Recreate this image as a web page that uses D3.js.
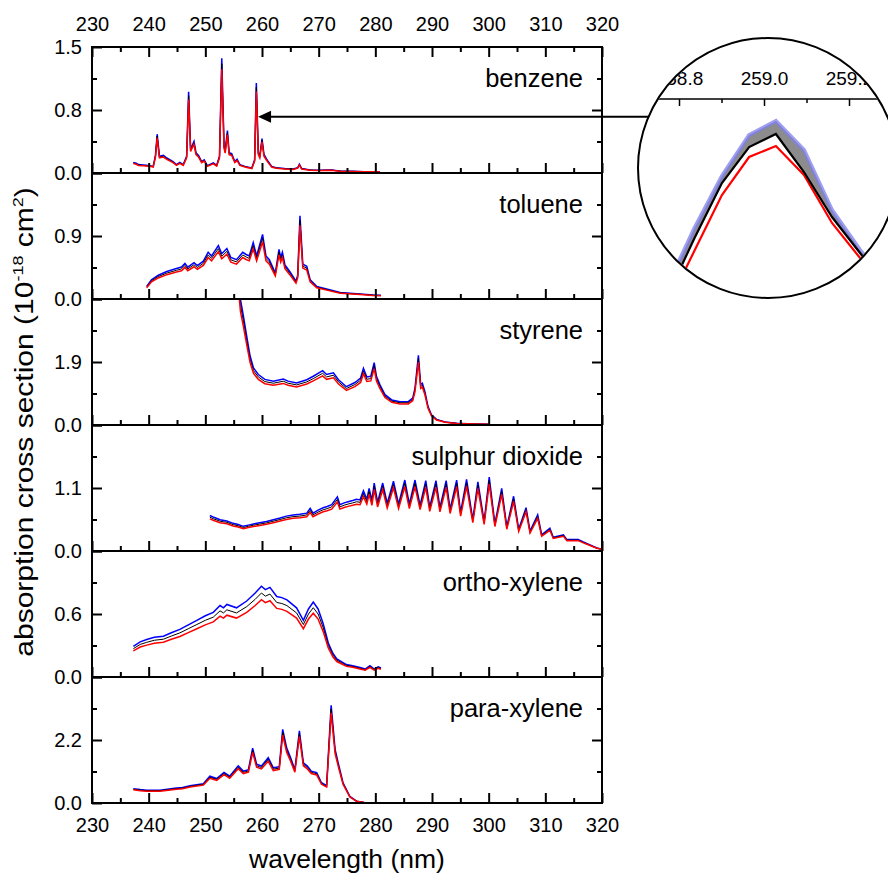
<!DOCTYPE html>
<html>
<head>
<meta charset="utf-8">
<script src="https://cdn.jsdelivr.net/npm/d3@7"></script>
<style>
	body { margin: 0; background: #fff; }
	svg text { font-family: "Liberation Sans", Arial, sans-serif; fill: #000; }
</style>
</head>
<body>
<div id="chart"></div>
<script>
// spectra: [wavelength nm, mean cross section 1e-18 cm2]
var benzene = [[237.3,0.12],[237.8,0.11],[238.2,0.095],[239.0,0.09],[239.6,0.087],[240.4,0.08],[240.8,0.075],[241.2,0.2],[241.5,0.44],[241.9,0.19],[242.6,0.2],[243.2,0.17],[244.3,0.13],[244.9,0.095],[245.5,0.12],[246.1,0.095],[246.7,0.19],[247.05,0.92],[247.4,0.27],[248.0,0.36],[248.35,0.23],[248.8,0.2],[249.35,0.13],[249.8,0.15],[250.35,0.083],[251.4,0.115],[252.0,0.087],[252.5,0.19],[252.9,1.3],[253.3,0.31],[253.5,0.25],[253.9,0.48],[254.2,0.23],[254.65,0.22],[255.2,0.13],[255.6,0.155],[256.1,0.095],[257.0,0.075],[258.2,0.056],[258.7,0.15],[259.0,1.02],[259.35,0.23],[259.6,0.19],[260.0,0.39],[260.35,0.21],[260.8,0.16],[261.1,0.13],[261.7,0.075],[262.5,0.06],[264.0,0.05],[265.5,0.045],[266.3,0.06],[266.6,0.1],[267.0,0.05],[268.5,0.035],[270.0,0.03],[272.3,0.035],[274.0,0.02],[276.0,0.02],[278.0,0.015],[280.8,0.015]];

var toluene = [[239.65,0.17],[240.5,0.26],[241.7,0.32],[243.2,0.37],[244.9,0.41],[245.8,0.43],[246.4,0.48],[246.9,0.43],[248.0,0.49],[248.6,0.45],[249.65,0.51],[250.5,0.63],[251.1,0.58],[252.3,0.72],[252.9,0.61],[253.8,0.68],[254.5,0.56],[255.5,0.53],[256.6,0.63],[257.2,0.6],[257.75,0.58],[258.45,0.76],[259.05,0.58],[260.1,0.87],[260.7,0.58],[261.3,0.53],[261.7,0.46],[262.35,0.35],[263.0,0.67],[263.3,0.56],[263.6,0.63],[264.05,0.46],[264.9,0.37],[266.0,0.24],[266.3,0.32],[266.7,1.12],[267.2,0.47],[267.9,0.44],[268.5,0.26],[269.65,0.17],[271.4,0.135],[273.8,0.087],[277.3,0.068],[279.6,0.055],[281.0,0.05]];

var styrene = [[255.9,4.2],[256.2,3.6],[256.7,3.15],[257.3,2.55],[257.9,1.98],[258.5,1.64],[259.35,1.45],[260.5,1.31],[262.0,1.26],[263.75,1.32],[264.6,1.26],[266.1,1.21],[267.9,1.3],[269.05,1.4],[270.7,1.56],[271.4,1.45],[272.6,1.5],[273.5,1.3],[274.9,1.1],[276.4,1.22],[277.4,1.35],[277.9,1.63],[278.5,1.38],[279.2,1.4],[279.8,1.79],[280.2,1.4],[280.8,1.16],[281.7,0.87],[282.9,0.72],[284.35,0.67],[285.8,0.67],[286.6,0.77],[287.0,1.06],[287.6,2.0],[288.0,1.16],[288.3,1.2],[288.75,0.96],[289.3,0.53],[289.9,0.29],[290.8,0.16],[292.3,0.086],[294.35,0.048],[297.3,0.03],[300.0,0.02]];

var sulphurDioxide = [[250.8,0.59],[251.5,0.56],[252.6,0.52],[253.8,0.5],[254.9,0.46],[255.8,0.44],[256.7,0.41],[257.6,0.43],[258.5,0.45],[259.6,0.47],[260.8,0.49],[262.0,0.52],[263.2,0.55],[264.3,0.58],[265.5,0.6],[266.7,0.61],[267.9,0.63],[268.5,0.71],[269.0,0.63],[269.9,0.68],[270.8,0.72],[271.5,0.74],[272.3,0.77],[273.3,0.9],[273.75,0.77],[274.5,0.8],[275.2,0.82],[276.0,0.84],[276.7,0.86],[277.3,0.85],[277.9,1.0],[278.5,0.86],[278.9,1.04],[279.4,0.84],[279.8,1.13],[280.4,0.81],[281.3,1.13],[282.1,0.79],[283.2,1.16],[284.1,0.78],[285.2,1.18],[286.0,0.78],[287.0,1.18],[287.9,0.76],[288.9,1.17],[289.6,0.73],[290.7,1.17],[291.4,0.72],[292.5,1.17],[293.2,0.69],[294.35,1.18],[295.05,0.64],[296.1,1.19],[297.2,0.52],[298.1,1.15],[299.2,0.49],[300.1,1.23],[301.1,0.45],[302.3,1.04],[303.2,0.4],[304.4,0.91],[305.3,0.36],[306.6,0.72],[307.3,0.33],[308.65,0.6],[309.35,0.27],[310.8,0.38],[311.4,0.23],[313.2,0.27],[313.8,0.19],[315.8,0.19],[316.7,0.15],[317.9,0.1],[319.1,0.05],[320.0,0.03]];

var orthoXylene = [[237.3,0.27],[238.5,0.31],[239.65,0.33],[241.0,0.35],[242.6,0.36],[244.0,0.39],[245.5,0.42],[247.0,0.46],[248.5,0.5],[250.0,0.54],[251.4,0.57],[252.6,0.63],[253.2,0.61],[253.8,0.64],[255.5,0.61],[257.3,0.67],[258.8,0.74],[259.9,0.8],[260.6,0.77],[261.4,0.79],[262.6,0.71],[263.5,0.7],[264.4,0.68],[266.1,0.61],[267.3,0.5],[268.2,0.6],[269.05,0.66],[269.9,0.6],[270.8,0.47],[271.7,0.3],[272.5,0.21],[273.2,0.16],[274.9,0.11],[276.0,0.1],[277.3,0.083],[278.2,0.07],[279.05,0.1],[279.8,0.07],[280.5,0.09],[281.0,0.08]];

var paraXylene = [[237.3,0.48],[238.5,0.45],[239.65,0.43],[242.0,0.43],[244.9,0.5],[246.0,0.52],[247.3,0.58],[249.65,0.65],[250.8,0.9],[252.0,0.82],[253.3,1.03],[254.3,0.9],[255.8,1.25],[256.7,1.07],[257.6,1.12],[258.35,1.84],[259.05,1.3],[259.9,1.24],[261.1,1.52],[262.0,1.18],[263.05,1.22],[263.65,2.47],[264.35,1.85],[265.05,1.52],[265.8,1.12],[266.6,2.42],[267.3,1.35],[268.0,1.24],[268.7,1.07],[269.65,1.02],[270.5,0.68],[271.4,0.58],[272.2,3.28],[272.9,1.8],[273.5,1.3],[274.3,0.68],[275.5,0.22],[276.7,0.06],[278.0,0.02],[280.8,0.01]];

var spectra = [benzene, toluene, styrene, sulphurDioxide, orthoXylene, paraXylene];
var names = ["benzene", "toluene", "styrene", "sulphur dioxide", "ortho-xylene", "para-xylene"];
var yMax = [1.5, 1.8, 3.8, 2.2, 1.2, 4.4];
// relative uncertainty of each spectrum (blue = upper, red = lower)
var relErr = [0.05, 0.06, 0.05, 0.05, 0.08, 0.04];

var xTicks = [230, 240, 250, 260, 270, 280, 290, 300, 310, 320];
var xMinor = [235, 245, 255, 265, 275, 285, 295, 305, 315];

// zoomed inset around the 259 nm benzene band
var insetWl = [258.77, 258.836, 258.901, 258.965, 259.028, 259.094, 259.16, 259.226, 259.29];
var insetUpper = [0.40, 0.64, 0.85, 1.014, 1.07, 0.954, 0.714, 0.554, 0.42];
var insetMean = [0.36, 0.60, 0.822, 0.966, 1.018, 0.866, 0.686, 0.542, 0.40];
var insetLower = [0.32, 0.55, 0.774, 0.926, 0.97, 0.854, 0.662, 0.522, 0.38];
var insetTicks = [258.8, 259.0, 259.2];
var insetMinor = [258.9, 259.1];

var width = 888, height = 877;
var plotLeft = 92, plotRight = 602, plotTop = 47, panelH = 126;
var fontTick = 20, fontName = 25.5, fontTitle = 26.5;
var fmt = d3.format(".1f");

var svg = d3.select("#chart").append("svg")
	.attr("width", width)
	.attr("height", height);

var x = d3.scaleLinear().domain([230, 320]).range([plotLeft, plotRight]);

function styleAxis(g, size) {
	g.select(".domain").remove();
	g.selectAll(".tick line").attr("stroke", "#000").attr("stroke-width", 2);
	g.attr("font-size", size).attr("font-family", null);
}

var benzeneY;

spectra.forEach(function(data, i) {
	var top = plotTop + i * panelH;
	var bottom = top + panelH;
	var y = d3.scaleLinear().domain([0, yMax[i]]).range([bottom, top]);
	if(i === 0) benzeneY = y;

	svg.append("clipPath").attr("id", "clip" + i)
		.append("rect")
		.attr("x", plotLeft).attr("y", top)
		.attr("width", plotRight - plotLeft).attr("height", panelH);

	var line = d3.line().x(d => x(d[0])).y(d => y(d[1]));
	var plot = svg.append("g").attr("clip-path", "url(#clip" + i + ")");
	var e = relErr[i];

	plot.append("path")
		.attr("d", line(data.map(d => [d[0], d[1] * (1 + e)])))
		.attr("fill", "none").attr("stroke", "#0000ff").attr("stroke-width", 1.5);
	plot.append("path")
		.attr("d", line(data))
		.attr("fill", "none").attr("stroke", "#000").attr("stroke-width", 1);
	plot.append("path")
		.attr("d", line(data.map(d => [d[0], d[1] * (1 - e)])))
		.attr("fill", "none").attr("stroke", "#ff0000").attr("stroke-width", 1.5);

	var m = yMax[i];
	svg.append("g")
		.attr("transform", `translate(${plotLeft},0)`)
		.call(d3.axisLeft(y).tickValues([0, m / 2, m]).tickSize(-10).tickPadding(10)
			.tickFormat(v => (i > 0 && v === m) ? "" : fmt(v)))
		.call(g => styleAxis(g, fontTick));
	svg.append("g")
		.attr("transform", `translate(${plotLeft},0)`)
		.call(d3.axisLeft(y).tickValues([m / 4, 3 * m / 4]).tickSize(-5).tickFormat(""))
		.call(g => styleAxis(g, fontTick));
	svg.append("g")
		.attr("transform", `translate(${plotRight},0)`)
		.call(d3.axisRight(y).tickValues([m / 2]).tickSize(-10).tickFormat(""))
		.call(g => styleAxis(g, fontTick));
	svg.append("g")
		.attr("transform", `translate(${plotRight},0)`)
		.call(d3.axisRight(y).tickValues([m / 4, 3 * m / 4]).tickSize(-5).tickFormat(""))
		.call(g => styleAxis(g, fontTick));

	var last = i === spectra.length - 1;
	svg.append("g")
		.attr("transform", `translate(0,${bottom})`)
		.call(d3.axisBottom(x).tickValues(xTicks).tickSize(-10).tickPadding(15)
			.tickFormat(last ? d3.format("d") : ""))
		.call(g => styleAxis(g, fontTick));
	svg.append("g")
		.attr("transform", `translate(0,${bottom})`)
		.call(d3.axisBottom(x).tickValues(xMinor).tickSize(-5).tickFormat(""))
		.call(g => styleAxis(g, fontTick));

	if(i === 0) {
		svg.append("g")
			.attr("transform", `translate(0,${top})`)
			.call(d3.axisTop(x).tickValues(xTicks).tickSize(-10).tickPadding(16).tickFormat(d3.format("d")))
			.call(g => styleAxis(g, fontTick));
		svg.append("g")
			.attr("transform", `translate(0,${top})`)
			.call(d3.axisTop(x).tickValues(xMinor).tickSize(-5).tickFormat(""))
			.call(g => styleAxis(g, fontTick));
	}

	svg.append("rect")
		.attr("x", plotLeft).attr("y", top)
		.attr("width", plotRight - plotLeft).attr("height", panelH)
		.attr("fill", "none").attr("stroke", "#000").attr("stroke-width", 2);

	svg.append("text")
		.attr("x", 583).attr("y", top + 40)
		.attr("text-anchor", "end")
		.attr("font-size", fontName)
		.text(names[i]);
});

// axis titles
var yTitle = svg.append("text")
	.attr("transform", `translate(33,${plotTop + 3 * panelH - 3}) rotate(-90) scale(1.2,1)`)
	.attr("text-anchor", "middle")
	.attr("font-size", 25);
yTitle.append("tspan").text("absorption cross section (10");
yTitle.append("tspan").attr("dy", -10).attr("font-size", 15).text("-18");
yTitle.append("tspan").attr("dy", 10).text(" cm");
yTitle.append("tspan").attr("dy", -10).attr("font-size", 15).text("2");
yTitle.append("tspan").attr("dy", 10).text(")");

svg.append("text")
	.attr("x", (plotLeft + plotRight) / 2).attr("y", 868)
	.attr("text-anchor", "middle")
	.attr("font-size", fontTitle)
	.text("wavelength (nm)");

// arrow from the inset to the 259 nm peak
var cx = 768, cy = 168, r = 130;
var arrowY = benzeneY(0.67);
var tipX = x(259.3);
svg.append("line")
	.attr("x1", tipX + 10).attr("y1", arrowY)
	.attr("x2", cx).attr("y2", arrowY)
	.attr("stroke", "#000").attr("stroke-width", 2);
svg.append("path")
	.attr("d", `M${tipX},${arrowY}L${tipX + 13},${arrowY - 6}L${tipX + 13},${arrowY + 6}Z`)
	.attr("fill", "#000");

// inset
svg.append("circle")
	.attr("cx", cx).attr("cy", cy).attr("r", r)
	.attr("fill", "#fff");

svg.append("clipPath").attr("id", "clipInset")
	.append("circle")
	.attr("cx", cx).attr("cy", cy).attr("r", r - 1);

var ix = d3.scaleLinear().domain([258.8, 259.2]).range([679, 849]);
var iy = d3.scaleLinear().domain([0.5, 1.1]).range([263.5, 113.5]);
var inset = svg.append("g").attr("clip-path", "url(#clipInset)");

var insetData = insetWl.map((w, k) => ({w: w, up: insetUpper[k], mean: insetMean[k], low: insetLower[k]}));

inset.append("path")
	.attr("d", d3.area().x(d => ix(d.w)).y0(d => iy(d.mean)).y1(d => iy(d.up))(insetData))
	.attr("fill", "#8c8c8c");
inset.append("path")
	.attr("d", d3.line().x(d => ix(d.w)).y(d => iy(d.up))(insetData))
	.attr("fill", "none").attr("stroke", "#7f7fee").attr("stroke-opacity", 0.75).attr("stroke-width", 4);
inset.append("path")
	.attr("d", d3.line().x(d => ix(d.w)).y(d => iy(d.low))(insetData))
	.attr("fill", "none").attr("stroke", "#ff0000").attr("stroke-width", 2.2);
inset.append("path")
	.attr("d", d3.line().x(d => ix(d.w)).y(d => iy(d.mean))(insetData))
	.attr("fill", "none").attr("stroke", "#000").attr("stroke-width", 2.2);

inset.append("line")
	.attr("x1", cx - r).attr("x2", cx + r)
	.attr("y1", 99).attr("y2", 99)
	.attr("stroke", "#000").attr("stroke-width", 1.5);
inset.append("g")
	.attr("transform", "translate(0,99)")
	.call(d3.axisTop(ix).tickValues(insetTicks).tickSize(-7).tickPadding(14).tickFormat(fmt))
	.call(g => styleAxis(g, 19));
inset.append("g")
	.attr("transform", "translate(0,99)")
	.call(d3.axisTop(ix).tickValues(insetMinor).tickSize(-4).tickFormat(""))
	.call(g => styleAxis(g, 19));
inset.selectAll(".tick line").attr("stroke-width", 1.5);

svg.append("circle")
	.attr("cx", cx).attr("cy", cy).attr("r", r)
	.attr("fill", "none").attr("stroke", "#000").attr("stroke-width", 2);
</script>
</body>
</html>
